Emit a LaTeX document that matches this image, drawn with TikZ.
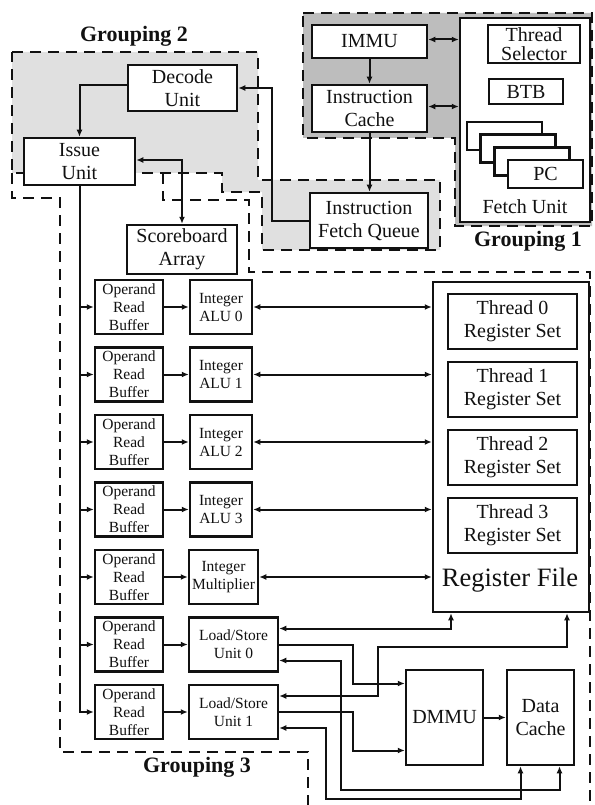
\documentclass[tikz,border=0pt]{standalone}
\usepackage{fontspec}
\setmainfont{Liberation Serif}
\usetikzlibrary{arrows.meta}
\definecolor{ink}{HTML}{111111}
\definecolor{shadelight}{gray}{0.88}
\definecolor{shadedark}{gray}{0.74}
\newcommand{\unitfont}{\fontsize{20}{23}\selectfont}
\newcommand{\smallfont}{\fontsize{15.5}{18}\selectfont}
\newcommand{\regfont}{\fontsize{26.5}{30}\selectfont}
\newcommand{\groupfont}{\fontsize{22}{24}\selectfont\bfseries}
\tikzset{
  unitbox/.style={draw=ink, line width=2.5pt, fill=white, align=center, inner sep=0pt, text=ink, font=\unitfont},
  smallbox/.style={unitbox, font=\smallfont},
  groupline/.style={draw=ink, line width=2.6pt, dash pattern=on 11pt off 7pt},
  wire/.style={draw=ink, line width=2pt},
  onearrow/.style={wire, -{Latex[length=7pt,width=6pt]}},
  twoarrow/.style={wire, {Latex[length=7pt,width=6pt]}-{Latex[length=7pt,width=6pt]}},
  grouplabel/.style={text=ink, font=\groupfont, inner sep=0pt},
}

\begin{document}
\begin{tikzpicture}[x=1pt,y=-1pt]
  \useasboundingbox (0,0) rectangle (594,805);
  \fill[white] (0,0) rectangle (594,805);

  % Groupings drawn first, boxes sit on top of them.
  \filldraw[groupline, fill=shadelight] (12,52) -- (258,52) -- (258,180) -- (440,180) -- (440,250)
    -- (262,250) -- (262,192) -- (222,192) -- (222,173) -- (12,173) -- cycle;
  \filldraw[groupline, fill=shadedark] (303,13) -- (592,13) -- (592,226) -- (455,226) -- (455,138)
    -- (303,138) -- cycle;
  \draw[groupline] (12,173) -- (12,198) -- (60,198) -- (60,752) -- (308,752) -- (308,812);
  \draw[groupline] (163,173) -- (163,200) -- (249,200) -- (249,272) -- (590,272) -- (590,812);

  \node[grouplabel] (g2label) at (134,36) {Grouping 2};
  \node[grouplabel] (g1label) at (528,241) {Grouping 1};
  \node[grouplabel] (g3label) at (197,767) {Grouping 3};

  % Fetch side
  \node[unitbox, minimum width=130pt, minimum height=204pt] (fetch) at (525,120) {};
  \node[text=ink, font=\unitfont, inner sep=0pt] (fetchlabel) at (525,207) {Fetch Unit};
  \node[unitbox, minimum width=92pt, minimum height=38pt, font=\fontsize{20}{19}\selectfont] (tsel) at (534,44) {Thread\\Selector};
  \node[unitbox, minimum width=74pt, minimum height=25pt] (btb) at (526,91.5) {BTB};
  \foreach \i in {0,...,3}
    \node[unitbox, minimum width=75pt, minimum height=28pt] (pc\i) at ({504.5+13.7*\i},{136+12.7*\i}) {};
  \node[text=ink, font=\unitfont, inner sep=0pt] (pclabel) at (pc3) {PC};

  \node[unitbox, minimum width=115pt, minimum height=33pt] (immu) at (369.5,41.5) {IMMU};
  \node[unitbox, minimum width=115pt, minimum height=47pt] (icache) at (369.5,108.5) {Instruction\\Cache};
  \node[unitbox, minimum width=118pt, minimum height=55pt] (ifq) at (369,220.5) {Instruction\\Fetch Queue};
  \node[unitbox, minimum width=109pt, minimum height=46pt] (decode) at (182.5,88) {Decode\\Unit};
  \node[unitbox, minimum width=111pt, minimum height=47pt] (issue) at (79.5,161.5) {Issue\\Unit};
  \node[unitbox, minimum width=110pt, minimum height=49pt] (score) at (182,249.5) {Scoreboard\\Array};

  % Execution side
  \foreach \i in {0,...,6}
    \node[smallbox, minimum width=68pt, minimum height=54pt] (orb\i) at (129,{307+67.5*\i}) {Operand\\Read\\Buffer};
  \foreach \i in {0,...,3}
    \node[smallbox, minimum width=62pt, minimum height=54pt] (alu\i) at (221,{307+67.5*\i}) {Integer\\ALU \i};
  \node[smallbox, minimum width=69pt, minimum height=54pt] (mult) at (223.5,577) {Integer\\Multiplier};
  \node[smallbox, minimum width=89pt, minimum height=54pt] (lsu0) at (233.5,644.5) {Load/Store\\Unit 0};
  \node[smallbox, minimum width=89pt, minimum height=54pt] (lsu1) at (233.5,712) {Load/Store\\Unit 1};

  \node[unitbox, minimum width=156pt, minimum height=330pt] (rf) at (511,447) {};
  \foreach \i in {0,...,3}
    \node[unitbox, minimum width=129pt, minimum height=55pt] (tset\i) at (512.5,{321.5+68*\i}) {Thread \i\\Register Set};
  \node[text=ink, font=\regfont, inner sep=0pt] (rflabel) at (510,580) {Register File};
  \node[unitbox, minimum width=77pt, minimum height=95pt] (dmmu) at (444.5,717.5) {DMMU};
  \node[unitbox, minimum width=67pt, minimum height=95pt] (dcache) at (540.5,717.5) {Data\\Cache};

  % Front end wiring
  \draw[onearrow] (immu.south) -- (immu.south |- icache.north);
  \draw[twoarrow] ([yshift=2pt]immu.east) -- ([yshift=2pt]immu.east -| fetch.west);
  \draw[twoarrow] ([yshift=2pt]icache.east) -- ([yshift=2pt]icache.east -| fetch.west);
  \draw[onearrow] (icache.south) -- (icache.south |- ifq.north);
  \draw[onearrow] (ifq.west) -- ++(-37,0) |- (decode.east);
  \draw[onearrow] ([yshift=3pt]decode.west) -| (issue.north);
  \draw[twoarrow] ([yshift=1.5pt]issue.east) -| (score.north);

  % Issue bus to the operand buffers
  \draw[onearrow] (issue.south) |- (orb6.west);
  \foreach \i in {0,...,5}
    \draw[onearrow] (issue.south |- orb\i.west) -- (orb\i.west);
  \foreach \i/\dst in {0/alu0,1/alu1,2/alu2,3/alu3,4/mult,5/lsu0,6/lsu1}
    \draw[onearrow] (orb\i.east) -- (\dst.west);
  \foreach \src in {alu0,alu1,alu2,alu3,mult}
    \draw[twoarrow] (\src.east) -- (\src.east -| rf.west);

  % Load/store units to register file, DMMU and data cache
  \draw[twoarrow] ([yshift=16pt]lsu0.east) -| ([xshift=-60pt]rf.south);
  \draw[onearrow] (lsu0.east) -- ++(74,0) |- ([yshift=34pt]dmmu.west);
  \draw[twoarrow] ([yshift=-16pt]lsu0.east) -- ++(62,0) -- ++(0,129.5) -| ([xshift=19pt]dcache.south);
  \draw[twoarrow] ([yshift=16pt]lsu1.east) -- ++(99,0) -- ++(0,-49) -| ([xshift=56pt]rf.south);
  \draw[onearrow] (lsu1.east) -- ++(74,0) |- ([yshift=-33pt]dmmu.west);
  \draw[twoarrow] ([yshift=-16pt]lsu1.east) -- ++(47,0) -- ++(0,71) -| ([xshift=-20pt]dcache.south);
  \draw[onearrow] (dmmu.east) -- (dcache.west);
\end{tikzpicture}
\end{document}
